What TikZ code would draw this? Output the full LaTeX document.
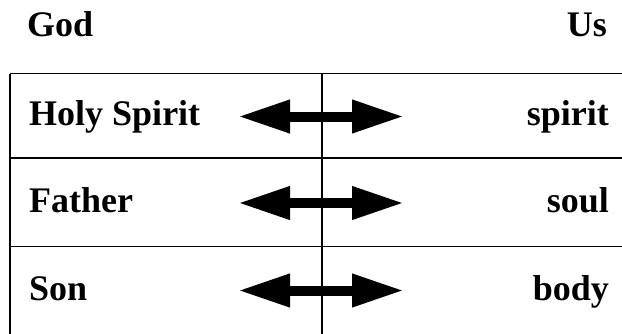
\documentclass[tikz,border=0pt]{standalone}
\usepackage{fontspec}
\setmainfont{Liberation Serif}
\usetikzlibrary{arrows.meta}
\tikzset{
  word/.style={inner sep=0pt,font=\fontsize{36}{40}\selectfont\bfseries},
  link/.style={line width=10pt,{Triangle[length=52pt,width=31pt]}-{Triangle[length=52pt,width=31pt]}}
}

\begin{document}
\begin{tikzpicture}[x=1pt,y=-1pt]
        % frame in pixels of the reference: 622 x 333
        \clip (0,0) rectangle (622,333);

        \coordinate (T) at (10,73.5);
        \coordinate (M) at (322,73.5);
        \coordinate (R1) at (10,158);
        \coordinate (R2) at (10,246.5);

        % table lines
        \draw[line width=1.6pt] (T) -- (650,73.5);
        \draw[line width=1.6pt] (T) -- (10,400);
        \draw[line width=1.6pt] (R1) -- (650,158);
        \draw[line width=1.6pt] (R2) -- (650,246.5);
        \draw[line width=1.1pt] (M) -- (322,400);

        % double arrows
        \coordinate (hsL) at (238,116.5);
        \coordinate (hsR) at (404,116.5);
        \coordinate (faL) at (238,203);
        \coordinate (faR) at (404,203);
        \coordinate (soL) at (238,290.5);
        \coordinate (soR) at (404,290.5);
        \draw[link] (hsL) -- (hsR);
        \draw[link] (faL) -- (faR);
        \draw[link] (soL) -- (soR);

        \node[word,anchor=base west] (god) at (27,36) {God};
        \node[word,anchor=base east] (us) at (607,36) {Us};
        \node[word,anchor=base west] (holy) at (29,125) {Holy Spirit};
        \node[word,anchor=base west] (father) at (29,212) {Father};
        \node[word,anchor=base west] (son) at (29,300) {Son};
        \node[word,anchor=base east] (spirit) at (609,125) {spirit};
        \node[word,anchor=base east] (soul) at (609,212) {soul};
        \node[word,anchor=base east] (body) at (609,300) {body};
    \end{tikzpicture}
\end{document}
